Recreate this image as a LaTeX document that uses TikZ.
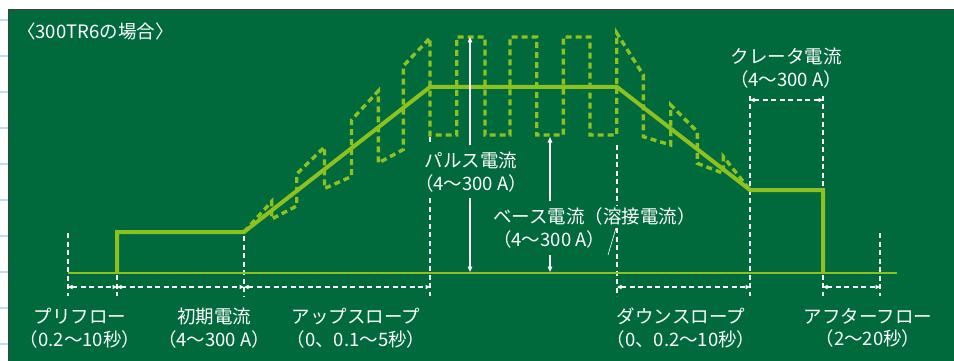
\documentclass[tikz,border=0pt]{standalone}
\usepackage{fontspec}
\setmainfont{Noto Sans CJK JP}
\usetikzlibrary{arrows.meta}
\definecolor{bg}{RGB}{0,106,61}
\definecolor{lime}{RGB}{141,193,31}
\definecolor{tickblue}{RGB}{190,222,240}
\begin{document}
\begin{tikzpicture}[x=1pt,y=-1pt,
  wdash/.style={white, line width=1.1pt, dash pattern=on 5pt off 3.5pt},
  dimarrow/.style={wdash, {Triangle[length=4.5pt,width=4pt]}-{Triangle[length=4.5pt,width=4pt]}},
  mainline/.style={lime, line width=4pt},
  pulseline/.style={lime, line width=3.4pt, dash pattern=on 6pt off 4pt},
  lbl/.style={text=white, font=\fontsize{18.5}{22.5}\selectfont, align=center, inner sep=0pt},
  varrow/.style={white, line width=1.3pt, -{Triangle[length=5.5pt,width=4.5pt]}}
]
\useasboundingbox (0,0) rectangle (954,361);
\fill[white] (0,0) rectangle (954,361);
\foreach \yy in {20,56,...,344} \draw[tickblue, line width=1.5pt] (0,\yy) -- (8,\yy);
\fill[bg] (8.5,9.5) rectangle (954,361);
\draw[black!75, line width=1pt] (8.5,361) -- (8.5,9.5) -- (954,9.5);

% white dashed guide lines
\draw[wdash] (68,233) -- (68,296);
\draw[wdash] (117,275) -- (117,296);
\draw[wdash] (244,236) -- (244,296);
\draw[wdash] (430,137) -- (430,143);
\draw[wdash] (430,198) -- (430,296);
\draw[wdash] (617,145) -- (617,205);
\draw[wdash] (617,228) -- (617,296);
\draw[wdash] (750,96) -- (750,296);
\draw[wdash] (823,96) -- (823,296);
\draw[wdash] (880,233) -- (880,296);

% dimension arrows
\coordinate (dA) at (68,287);
\coordinate (dB) at (117,287);
\coordinate (dC) at (244,287);
\coordinate (dD) at (430,287);
\coordinate (dE) at (617,287);
\coordinate (dF) at (750,287);
\coordinate (dG) at (823,287);
\coordinate (dH) at (880,287);
\coordinate (cF) at (750,100);
\coordinate (cG) at (823,100);
\draw[dimarrow] (dA) -- (dB);
\draw[dimarrow] (dB) -- (dC);
\draw[dimarrow] (dC) -- (dD);
\draw[dimarrow] (dE) -- (dF);
\draw[dimarrow] (dG) -- (dH);
\draw[dimarrow] (cF) -- (cG);

% base line
\draw[lime, line width=2pt] (68,273) -- (897,273);

% pulse waveform (dashed)
\draw[pulseline] (244,232) -- (271.7,201.5) -- (271.7,219) -- (296.7,206) -- (296.7,174)
  -- (324.5,147) -- (324.5,188.5) -- (351.5,176.5) -- (351.5,120) -- (378.3,91)
  -- (378.3,163) -- (403.3,149.5) -- (403.3,66) -- (430,38) -- (430,135)
  -- (456.7,135) -- (456.7,37) -- (485,37) -- (485,135) -- (510,135) -- (510,37)
  -- (536.7,37) -- (536.7,135) -- (563.3,135) -- (563.3,37) -- (590,37) -- (590,135)
  -- (616.7,135) -- (616.7,33) -- (643.3,75) -- (643.3,136.7) -- (670.7,145)
  -- (670.7,105) -- (697.3,131.7) -- (697.3,163.3) -- (723.3,173.3) -- (723.3,156.7)
  -- (750,190);

% main current waveform
\draw[mainline] (117,273) -- (117,232) -- (244,232) -- (430,87) -- (617,87)
  -- (750,190) -- (823,190) -- (823,273);

% pulse current arrow
\coordinate (pa1) at (470,145);
\coordinate (pa2) at (470,37);
\coordinate (pa3) at (470,198);
\coordinate (pa4) at (470,272);
\draw[varrow] (pa1) -- (pa2);
\draw[varrow] (pa3) -- (pa4);
% base current arrow
\coordinate (ba1) at (550,201);
\coordinate (ba2) at (550,137);
\coordinate (ba3) at (550,255);
\coordinate (ba4) at (550,272);
\draw[varrow] (ba1) -- (ba2);
\draw[varrow] (ba3) -- (ba4);
% leader slash
\coordinate (sl1) at (616,228);
\coordinate (sl2) at (608,255);
\draw[white, line width=0.6pt] (sl1) -- (sl2);

% texts
\node[lbl, anchor=west] (title) at (17,31) {〈300TR6の場合〉};
\node[lbl] (pulse) at (471,172) {パルス電流\\（4～300 A）};
\node[lbl, align=left, anchor=west] (base) at (493,228) {ベース電流（溶接電流）\\（4～300 A）};
\node[lbl] (crater) at (786,68) {クレータ電流\\（4～300 A）};
\node[lbl] (preflow) at (80,328) {プリフロー\\（0.2～10秒）};
\node[lbl] (initial) at (214,328) {初期電流\\（4～300 A）};
\node[lbl] (upslope) at (356,328) {アップスロープ\\（0、0.1～5秒）};
\node[lbl] (downslope) at (681,328) {ダウンスロープ\\（0、0.2～10秒）};
\node[lbl] (afterflow) at (868,328) {アフターフロー\\（2～20秒）};
\end{tikzpicture}
\end{document}
